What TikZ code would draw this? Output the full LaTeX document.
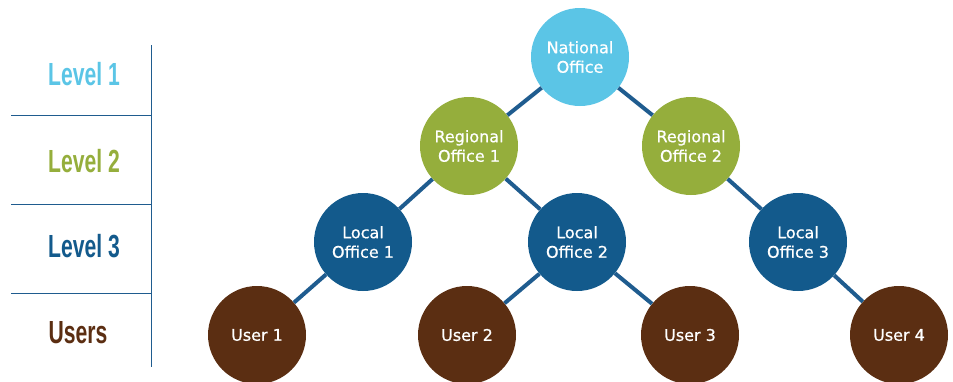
\documentclass[tikz,border=0pt]{standalone}
\usepackage{fontspec}
\setmainfont{Liberation Sans}
\newfontfamily\nodefont[FakeBold=0.7]{DejaVu Sans}
\definecolor{lvlone}{HTML}{5BC5E6}
\definecolor{lvltwo}{HTML}{95AE3C}
\definecolor{lvlthree}{HTML}{135A8C}
\definecolor{lvlusr}{HTML}{5B2E12}
\definecolor{linec}{HTML}{1F5C8F}
\begin{document}
\begin{tikzpicture}[x=1pt,y=-1pt,
  office/.style={circle,minimum size=98pt,inner sep=0pt,text=white,align=center,
    font=\nodefont\fontsize{16}{19.5}\selectfont},
  lone/.style={office,fill=lvlone},
  ltwo/.style={office,fill=lvltwo},
  lthree/.style={office,fill=lvlthree},
  lusr/.style={office,fill=lvlusr},
  link/.style={draw=linec,line width=4pt},
  rule/.style={draw=linec,line width=1pt},
  lvl/.style={font=\bfseries\fontsize{32}{34}\selectfont,anchor=center}]
\useasboundingbox (0,0) rectangle (953,381);
% left table
\coordinate (vt) at (151,45);
\coordinate (vb) at (151,367);
\draw[rule] (vt) -- (vb);
\coordinate (h1l) at (11,115); \coordinate (h1r) at (151,115);
\coordinate (h2l) at (11,204); \coordinate (h2r) at (151,204);
\coordinate (h3l) at (11,293); \coordinate (h3r) at (151,293);
\draw[rule] (h1l) -- (h1r);
\draw[rule] (h2l) -- (h2r);
\draw[rule] (h3l) -- (h3r);
\node[lvl,text=lvlone] (t1) at (84,74) {\scalebox{0.66}[1]{Level 1}};
\node[lvl,text=lvltwo] (t2) at (84,161) {\scalebox{0.66}[1]{Level 2}};
\node[lvl,text=lvlthree] (t3) at (84,246) {\scalebox{0.66}[1]{Level 3}};
\node[lvl,text=lvlusr] (t4) at (78,333) {\scalebox{0.66}[1]{Users}};
% tree
\node[lone] (nat) at (580,57) {National\\Office};
\node[ltwo] (reg1) at (469,146) {Regional\\Office 1};
\node[ltwo] (reg2) at (691,146) {Regional\\Office 2};
\node[lthree] (loc1) at (363,242) {Local\\Office 1};
\node[lthree] (loc2) at (577,242) {Local\\Office 2};
\node[lthree] (loc3) at (798,242) {Local\\Office 3};
\node[lusr] (u1) at (257,335) {User 1};
\node[lusr] (u2) at (467,335) {User 2};
\node[lusr] (u3) at (690,335) {User 3};
\node[lusr] (u4) at (899,335) {User 4};
\draw[link] (nat) -- (reg1);
\draw[link] (nat) -- (reg2);
\draw[link] (reg1) -- (loc1);
\draw[link] (reg1) -- (loc2);
\draw[link] (reg2) -- (loc3);
\draw[link] (loc1) -- (u1);
\draw[link] (loc2) -- (u2);
\draw[link] (loc2) -- (u3);
\draw[link] (loc3) -- (u4);
\end{tikzpicture}
\end{document}
